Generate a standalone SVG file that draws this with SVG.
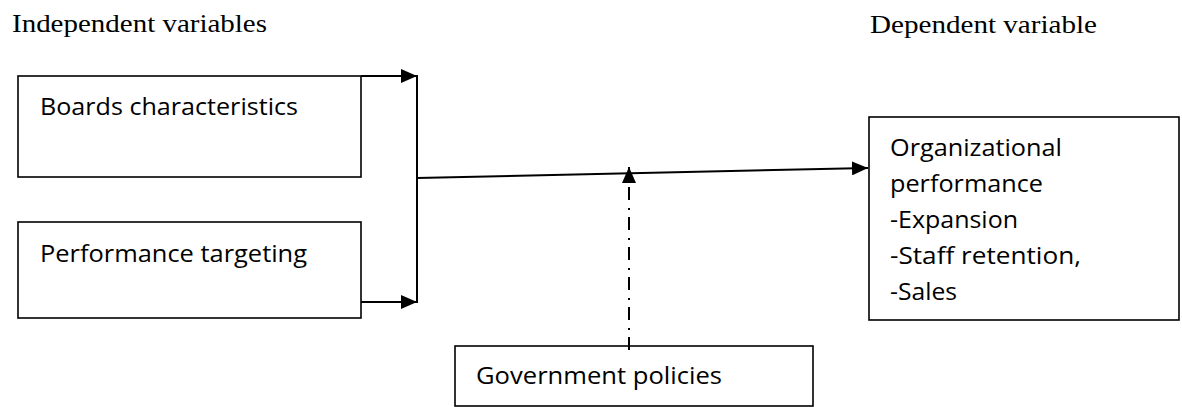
<svg xmlns="http://www.w3.org/2000/svg" width="1182" height="407" viewBox="0 0 1182 407">
<style>
.box{fill:#fff;stroke:#000;stroke-width:1.6}
.lbl{font-family:"Open Sans","Liberation Sans",sans-serif;font-size:23px;fill:#000}
.hdr{font-family:"Liberation Serif","Times New Roman",serif;font-size:26px;fill:#000}
.conn{fill:none;stroke:#000;stroke-width:2}
</style>
<defs>
<marker id="arr" markerWidth="16" markerHeight="14" refX="16" refY="7" orient="auto" markerUnits="userSpaceOnUse">
<path d="M0,0 L16,7 L0,14 Z" fill="#000"/>
</marker>
</defs>
<rect width="1182" height="407" fill="#fff"/>
<text class="hdr" x="12" y="32" textLength="255" lengthAdjust="spacingAndGlyphs">Independent variables</text>
<text class="hdr" x="870" y="33" textLength="227" lengthAdjust="spacingAndGlyphs">Dependent variable</text>
<g id="boards">
<rect class="box" x="18" y="76" width="343" height="101"/>
<text class="lbl" x="40" y="115" textLength="258" lengthAdjust="spacingAndGlyphs">Boards characteristics</text>
</g>
<g id="targeting">
<rect class="box" x="18" y="222" width="343" height="96"/>
<text class="lbl" x="40" y="262" textLength="267" lengthAdjust="spacingAndGlyphs">Performance targeting</text>
</g>
<g id="government">
<rect class="box" x="455" y="346" width="358" height="60"/>
<text class="lbl" x="476" y="384" textLength="246" lengthAdjust="spacingAndGlyphs">Government policies</text>
</g>
<g id="organizational">
<rect class="box" x="869" y="117" width="310" height="203"/>
<text class="lbl" x="890" y="156" textLength="172" lengthAdjust="spacingAndGlyphs">Organizational</text>
<text class="lbl" x="890" y="192" textLength="153" lengthAdjust="spacingAndGlyphs">performance</text>
<text class="lbl" x="890" y="228" textLength="128" lengthAdjust="spacingAndGlyphs">-Expansion</text>
<text class="lbl" x="890" y="264" textLength="191" lengthAdjust="spacingAndGlyphs">-Staff retention,</text>
<text class="lbl" x="890" y="300" textLength="67" lengthAdjust="spacingAndGlyphs">-Sales</text>
</g>
<g id="connectors">
<line class="conn" x1="361" y1="76" x2="417" y2="76" marker-end="url(#arr)"/>
<line class="conn" x1="361" y1="302" x2="417" y2="302" marker-end="url(#arr)"/>
<line class="conn" x1="417" y1="75" x2="417" y2="303"/>
<line class="conn" x1="417" y1="178" x2="868" y2="168" marker-end="url(#arr)"/>
<line class="conn" x1="629" y1="350" x2="629" y2="167" stroke-dasharray="13 7 2 8" marker-end="url(#arr)"/>
</g>
</svg>
